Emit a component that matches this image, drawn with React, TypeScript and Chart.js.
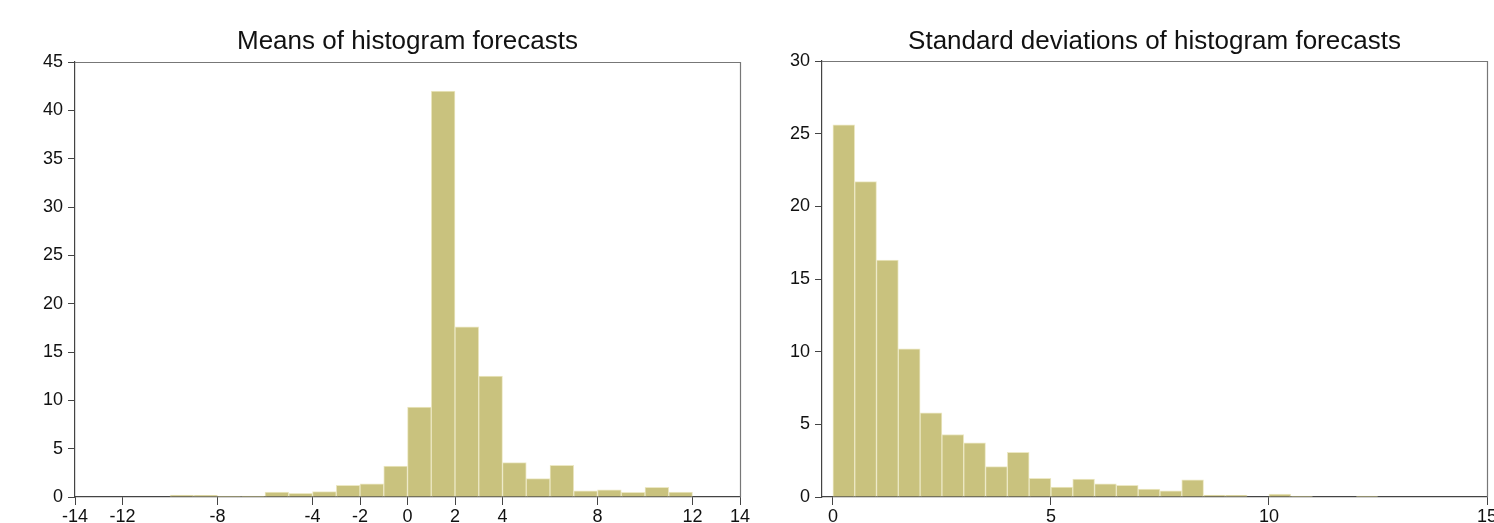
import React, { useEffect, useRef } from "react";
import { Chart, registerables } from "chart.js";

Chart.register(...registerables);

// ---- Data: means of histogram forecasts (bin width 1) ----
const meansBinStarts = [-10, -9, -8, -7, -6, -5, -4, -3, -2, -1, 0, 1, 2, 3, 4, 5, 6, 7, 8, 9, 10, 11];
const meansCounts = [0.2, 0.18, 0.1, 0.1, 0.5, 0.38, 0.55, 1.22, 1.35, 3.2, 9.3, 42.0, 17.6, 12.5, 3.55, 1.9, 3.27, 0.65, 0.75, 0.48, 1.0, 0.52];
const meansBinWidth = 1;
const meansXTicks = [-14, -12, -8, -4, -2, 0, 2, 4, 8, 12, 14];
const meansYTicks = [0, 5, 10, 15, 20, 25, 30, 35, 40, 45];

// ---- Data: standard deviations of histogram forecasts (bin width 0.5) ----
const sdBinStarts = [0, 0.5, 1, 1.5, 2, 2.5, 3, 3.5, 4, 4.5, 5, 5.5, 6, 6.5, 7, 7.5, 8, 8.5, 9, 9.5, 10, 10.5, 11, 11.5, 12];
const sdCounts = [25.6, 21.7, 16.3, 10.2, 5.8, 4.3, 3.72, 2.09, 3.08, 1.28, 0.69, 1.24, 0.9, 0.8, 0.55, 0.43, 1.19, 0.14, 0.12, 0, 0.2, 0.07, 0, 0, 0.07];
const sdBinWidth = 0.5;
const sdXTicks = [0, 5, 10, 15];
const sdYTicks = [0, 5, 10, 15, 20, 25, 30];

const FONT = "'Liberation Sans', Arial, Helvetica, sans-serif";
const BAR_FILL = "#c9c27e";
const BAR_EDGE = "#ece8c4";
const AXIS_COLOR = "#444";
const FRAME_COLOR = "#777";
const TEXT_COLOR = "#111";

const framePlugin = {
  id: "frameTopRight",
  afterDraw(chart: any) {
    const { ctx, chartArea } = chart;
    ctx.save();
    ctx.strokeStyle = FRAME_COLOR;
    ctx.lineWidth = 1.2;
    ctx.beginPath();
    ctx.moveTo(chartArea.left, chartArea.top + 0.5);
    ctx.lineTo(chartArea.right + 0.5, chartArea.top + 0.5);
    ctx.lineTo(chartArea.right + 0.5, chartArea.bottom);
    ctx.stroke();
    ctx.restore();
  },
};

type Cfg = {
  title: string;
  starts: number[];
  counts: number[];
  width: number;
  xTicks: number[];
  yTicks: number[];
  xMin: number;
  xMax: number;
  yMax: number;
  yAxisWidth: number;
  padRight: number;
  titlePadBottom: number;
};

function makeConfig(c: Cfg): any {
  const data = c.starts.map((s, i) => ({ x: s + c.width / 2, y: c.counts[i] }));
  return {
    type: "bar",
    data: {
      datasets: [
        {
          data,
          backgroundColor: BAR_FILL,
          borderColor: BAR_EDGE,
          borderWidth: 1,
          barPercentage: 1,
          categoryPercentage: 1,
        },
      ],
    },
    options: {
      animation: false,
      responsive: false,
      devicePixelRatio: 1,
      layout: { autoPadding: false, padding: { left: 0, right: c.padRight, top: 0, bottom: 0 } },
      plugins: {
        legend: { display: false },
        tooltip: { enabled: false },
        title: {
          display: true,
          text: c.title,
          fullSize: false,
          color: TEXT_COLOR,
          font: { family: FONT, size: 26, weight: "normal", lineHeight: 1 },
          padding: { top: 29, bottom: c.titlePadBottom },
        },
      },
      scales: {
        x: {
          type: "linear",
          min: c.xMin,
          max: c.xMax,
          offset: false,
          afterBuildTicks: (s: any) => {
            s.ticks = c.xTicks.map((v) => ({ value: v }));
          },
          afterFit: (s: any) => {
            s.height = 26;
          },
          grid: {
            offset: false,
            drawOnChartArea: false,
            drawTicks: true,
            tickLength: 8,
            color: AXIS_COLOR,
            tickColor: AXIS_COLOR,
          },
          border: { display: true, color: AXIS_COLOR, width: 1.2 },
          ticks: {
            color: TEXT_COLOR,
            font: { family: FONT, size: 18 },
            padding: 1,
            maxRotation: 0,
            autoSkip: false,
            callback: (v: any) => String(v),
          },
        },
        y: {
          type: "linear",
          min: 0,
          max: c.yMax,
          afterBuildTicks: (s: any) => {
            s.ticks = c.yTicks.map((v) => ({ value: v }));
          },
          afterFit: (s: any) => {
            s.width = c.yAxisWidth;
          },
          grid: {
            drawOnChartArea: false,
            drawTicks: true,
            tickLength: 7,
            color: AXIS_COLOR,
            tickColor: AXIS_COLOR,
          },
          border: { display: true, color: AXIS_COLOR, width: 1.2 },
          ticks: {
            color: TEXT_COLOR,
            font: { family: FONT, size: 18 },
            padding: 5,
            autoSkip: false,
            callback: (v: any) => String(v),
          },
        },
      },
    },
    plugins: [framePlugin],
  };
}

function HistChart(props: { cfg: Cfg; left: number; width: number; height: number }) {
  const ref = useRef<HTMLCanvasElement | null>(null);
  useEffect(() => {
    if (!ref.current) return;
    const chart = new Chart(ref.current, makeConfig(props.cfg));
    return () => chart.destroy();
  }, []);
  return (
    <canvas
      ref={ref}
      width={props.width}
      height={props.height}
      style={{ position: "absolute", left: props.left, top: 0, width: props.width, height: props.height }}
    />
  );
}

export default function App() {
  const meansCfg: Cfg = {
    title: "Means of histogram forecasts",
    starts: meansBinStarts,
    counts: meansCounts,
    width: meansBinWidth,
    xTicks: meansXTicks,
    yTicks: meansYTicks,
    xMin: -14,
    xMax: 14,
    yMax: 45,
    yAxisWidth: 75,
    padRight: 20,
    titlePadBottom: 7,
  };
  const sdCfg: Cfg = {
    title: "Standard deviations of histogram forecasts",
    starts: sdBinStarts,
    counts: sdCounts,
    width: sdBinWidth,
    xTicks: sdXTicks,
    yTicks: sdYTicks,
    xMin: -0.25,
    xMax: 15,
    yMax: 30,
    yAxisWidth: 62,
    padRight: 15,
    titlePadBottom: 6,
  };
  return (
    <div style={{ position: "absolute", left: 0, top: 0, width: 1494, height: 523, background: "#fff", overflow: "hidden" }}>
      <HistChart cfg={meansCfg} left={0} width={760} height={523} />
      <HistChart cfg={sdCfg} left={760} width={742} height={523} />
    </div>
  );
}
